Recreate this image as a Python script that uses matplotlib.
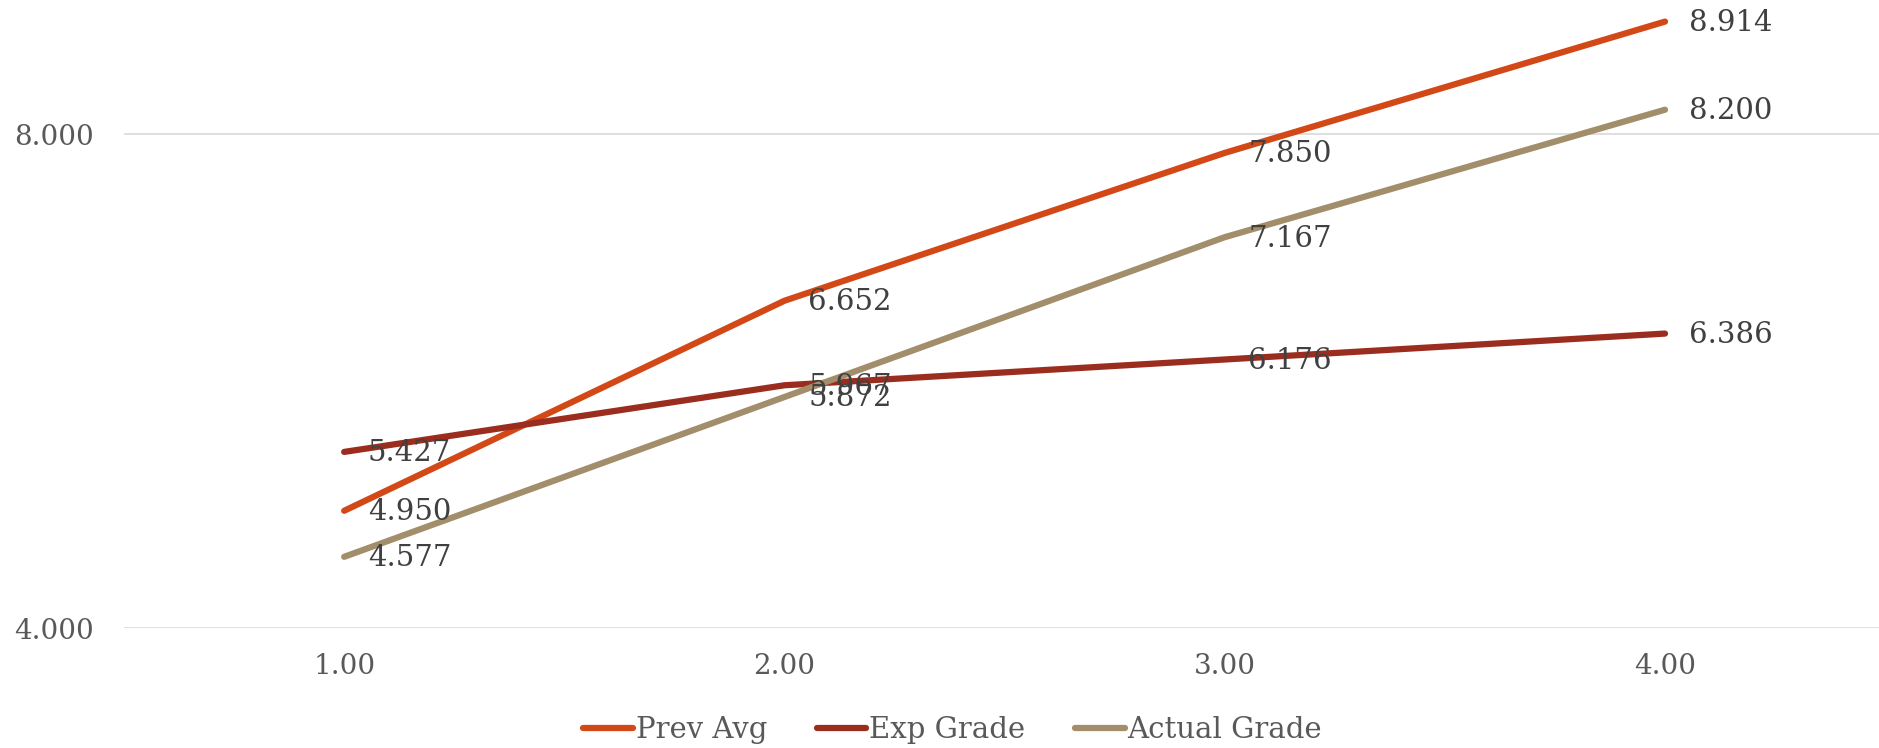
import matplotlib
matplotlib.use("Agg")
import matplotlib.pyplot as plt

plt.rcParams['font.family'] = ['DejaVu Serif']

# grading periods
periods = [1.0, 2.0, 3.0, 4.0]
prev_avg = [4.950, 6.652, 7.850, 8.914]
exp_grade = [5.427, 5.967, 6.176, 6.386]
actual_grade = [4.577, 5.872, 7.167, 8.200]

series = [
    ("Prev Avg", prev_avg, "#D34817"),
    ("Exp Grade", exp_grade, "#9B2D1F"),
    ("Actual Grade", actual_grade, "#A28E6A"),
]

fig = plt.figure(figsize=(18.79, 7.48), dpi=100)
ax = fig.add_axes([0.066, 0.1604, 0.934, 0.8396])

for name, vals, col in series:
    ax.plot(periods, vals, color=col, lw=4.5, solid_capstyle="round",
            solid_joinstyle="round", label=name, zorder=3)
    for x, v in zip(periods, vals):
        ax.annotate(f"{v:.3f}", (x, v), xytext=(17, -1), textcoords="offset points",
                    ha="left", va="center", fontsize=21, color="#404040", zorder=4)

ax.set_xlim(0.5, 4.486)
ax.set_ylim(4, 9.089)
ax.set_xticks(periods)
ax.set_xticklabels([f"{p:.2f}" for p in periods])
ax.set_yticks([4, 8])
ax.set_yticklabels(["4.000", "8.000"])
ax.tick_params(axis="both", length=0, labelsize=20, labelcolor="#595959")
ax.tick_params(axis="y", pad=22)
ax.tick_params(axis="x", pad=18)
ax.grid(axis="y", color="#D9D9D9", lw=1.2, zorder=0)
for s in ax.spines.values():
    s.set_visible(False)

fig.legend(loc="center", bbox_to_anchor=(0.507, 0.024), ncol=3, frameon=False,
           fontsize=21, labelcolor="#595959", handlelength=1.7, handletextpad=0.1,
           columnspacing=1.7)

fig.savefig("out.png", dpi=100)
